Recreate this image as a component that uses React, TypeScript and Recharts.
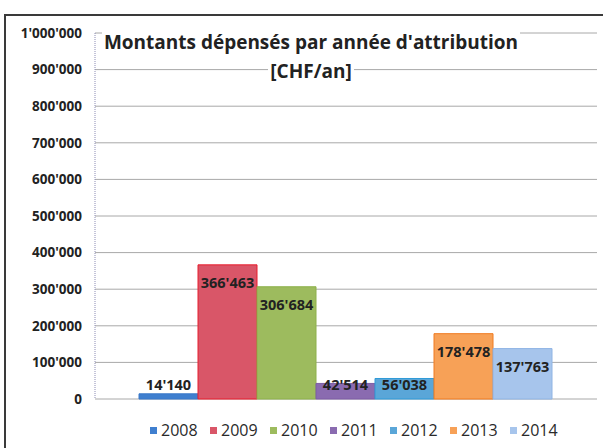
import React from 'react';
import { BarChart, Bar, XAxis, YAxis, CartesianGrid, Legend, LabelList } from 'recharts';

const years = ['2008', '2009', '2010', '2011', '2012', '2013', '2014'];
const amounts = [14140, 366463, 306684, 42514, 56038, 178478, 137763];
const fills = ['#3f7fcf', '#d95668', '#9dbb5e', '#8a6bb0', '#5aa6d8', '#f7a157', '#a7c5ec'];
const strokes = ['#3a78c8', '#e81c2c', '#8db04a', '#7c5da5', '#2f9ad8', '#f07a20', '#8fb4e4'];
const yTicks = [0, 100000, 200000, 300000, 400000, 500000, 600000, 700000, 800000, 900000, 1000000];
const titleLines = ["Montants dépensés par année d'attribution", '[CHF/an]'];

const data = [
  years.reduce((row: Record<string, number | string>, y, i) => ({ ...row, [y]: amounts[i] }), { name: 'montants' }),
];

const FONT = '"Open Sans", "DejaVu Sans", sans-serif';

const fmt = (v: number) => String(v).replace(/\B(?=(\d{3})+(?!\d))/g, "'");

const ValueLabel = (props: any) => {
  const { x, y, width, height, value } = props;
  const cy = Math.min(y + 18, y + height - 15);
  return (
    <text
      x={x + width / 2}
      y={cy}
      textAnchor="middle"
      dominantBaseline="central"
      fontFamily={FONT}
      fontWeight={700}
      fontSize={14.5}
      fill="#222"
    >
      {fmt(value)}
    </text>
  );
};

const LegendRow = (props: any) => (
  <div style={{ display: 'flex', paddingLeft: 150, paddingTop: 20, fontFamily: FONT, fontSize: 16, color: '#2a2a2a' }}>
    {props.payload.map((p: any) => (
      <div key={p.value} style={{ display: 'flex', alignItems: 'center', width: 60 }}>
        <span style={{ width: 7, height: 7, background: p.color, marginRight: 4 }} />
        <span>{p.value}</span>
      </div>
    ))}
  </div>
);

export default function App() {
  return (
    <div style={{ position: 'absolute', left: 0, top: 0, width: 603, height: 448, overflow: 'hidden', background: '#fff' }}>
      <div
        style={{
          position: 'absolute',
          left: 4,
          top: 14,
          width: 640,
          height: 480,
          border: '2px solid #3a3a3a',
        }}
      />
      <BarChart
        width={603}
        height={448}
        data={data}
        margin={{ top: 33, right: 6, left: 0, bottom: 0 }}
        barCategoryGap={44}
        barGap={0}
        style={{ position: 'absolute', left: 0, top: 0 }}
      >
        <CartesianGrid vertical={false} stroke="#a8a8a8" />
        <XAxis dataKey="name" tick={false} tickLine={false} height={0} axisLine={{ stroke: '#9a9a9a' }} />
        <YAxis
          width={95}
          domain={[0, 1000000]}
          ticks={yTicks}
          tickFormatter={fmt}
          tickLine={false}
          tickMargin={7}
          axisLine={{ stroke: '#8c8cb4', strokeDasharray: '1 1' }}
          tick={{ fontFamily: FONT, fontWeight: 700, fontSize: 13.5, fill: '#222' }}
          interval={0}
        />
        <Legend verticalAlign="bottom" height={49} content={LegendRow} />
        {years.map((y, i) => (
          <Bar key={y} dataKey={y} name={y} fill={fills[i]} stroke={strokes[i]} strokeWidth={1} isAnimationActive={false}>
            <LabelList dataKey={y} content={ValueLabel} />
          </Bar>
        ))}
      </BarChart>
      <div
        style={{
          position: 'absolute',
          left: 0,
          top: 28,
          width: 622,
          textAlign: 'center',
          fontFamily: FONT,
          fontWeight: 700,
          fontSize: 19,
          lineHeight: '29px',
          color: '#222',
        }}
      >
        {titleLines.map((t) => (
          <div key={t}>
            <span style={{ background: '#fff', padding: '0 2px' }}>{t}</span>
          </div>
        ))}
      </div>
    </div>
  );
}
